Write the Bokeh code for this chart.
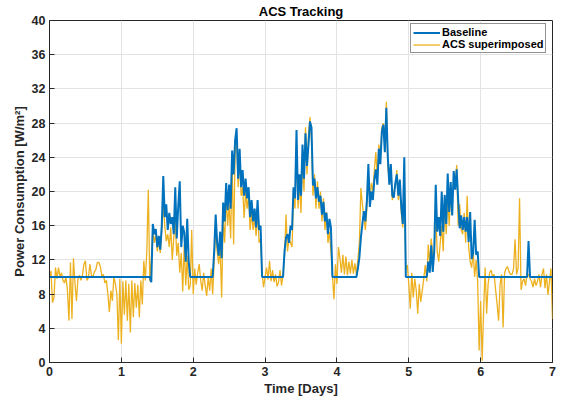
import numpy as np
from bokeh.plotting import figure
from bokeh.models import Legend, LegendItem, ColumnDataSource, FixedTicker
from bokeh.embed import file_html
from bokeh.resources import INLINE

# Sampling: one value every 30 minutes over 7 days (48 samples per day)
samples_per_day = 48

# Baseline power consumption [W/m^2]
baseline = [
    10.0, 10.0, 10.0, 10.0, 10.0, 10.0, 10.0, 10.0, 10.0, 10.0,
    10.0, 10.0, 10.0, 10.0, 10.0, 10.0, 10.0, 10.0, 10.0, 10.0,
    10.0, 10.0, 10.0, 10.0, 10.0, 10.0, 10.0, 10.0, 10.0, 10.0,
    10.0, 10.0, 10.0, 10.0, 10.0, 10.0, 10.0, 10.0, 10.0, 10.0,
    10.0, 10.0, 10.0, 10.0, 10.0, 10.0, 10.0, 10.0, 10.0, 10.0,
    10.0, 10.0, 10.0, 10.0, 10.0, 10.0, 10.0, 10.0, 10.0, 10.0,
    10.0, 10.0, 10.0, 10.0, 10.0, 10.0, 10.0, 10.0, 9.4,
    16.2, 15.0, 15.6, 13.5, 14.8, 13.2, 16.0, 21.8, 17.0, 18.5,
    15.5, 17.5, 16.2, 17.0, 15.0, 20.5, 14.5, 18.3, 21.2, 13.5,
    16.0, 15.2, 11.8, 16.8, 11.8,
    10.0, 10.0, 10.0, 10.0, 10.0, 10.0, 10.0, 10.0, 10.0, 10.0,
    10.0, 10.0, 10.0, 10.0, 10.0, 10.0,
    13.0, 17.3, 14.0, 12.5, 15.3, 12.2, 18.7, 16.5, 21.0, 17.8,
    20.8, 18.0, 24.8, 22.0, 26.0, 27.4, 21.5, 25.0, 20.5, 22.5,
    19.5, 21.5, 19.2, 20.5, 17.0, 19.0, 16.5, 18.0, 15.8, 19.0,
    15.5, 16.0,
    10.0, 10.0, 10.0, 10.0, 10.0, 10.0, 10.0, 10.0, 10.0, 10.0,
    10.0, 10.0, 10.0, 10.0, 10.0,
    13.0, 14.6, 15.0, 14.0, 16.0, 15.5, 20.5, 19.2, 27.2, 19.0,
    22.0, 19.5, 25.5, 21.5, 26.8, 23.0, 25.5, 28.2, 27.5, 20.7,
    21.5, 19.2, 20.5, 18.8, 19.5, 17.3, 18.8, 16.5, 17.5, 15.0,
    16.8, 15.8,
    10.0, 10.0, 10.0, 10.0, 10.0, 10.0, 10.0, 10.0, 10.0, 10.0,
    10.0, 10.0, 10.0, 10.0, 10.0, 10.0, 10.0,
    11.0, 12.3, 14.6, 16.2, 17.7, 16.5, 18.9, 23.2, 18.2, 20.0,
    19.0, 21.4, 22.6, 20.8, 25.0, 23.2, 27.0, 27.8, 24.6, 29.8,
    24.0, 20.8, 23.2, 19.5, 19.3, 21.0, 22.0, 19.5, 21.4, 18.2,
    16.2, 24.0,
    10.0, 10.0, 10.0, 10.0, 10.0, 10.0, 10.0, 10.0, 10.0, 10.0,
    10.0, 10.0, 10.0, 10.0, 10.0,
    11.8, 10.5, 13.7, 10.6, 13.0, 20.8, 15.3, 17.0, 14.8, 20.0,
    15.3, 19.6, 16.2, 22.1, 17.6, 21.1, 17.2, 22.4, 20.2, 22.6,
    19.0, 15.7, 17.2, 15.5, 17.0, 15.3, 17.0, 14.1, 17.6, 12.1,
    12.8, 16.7, 12.6, 13.0,
    10.0, 10.0, 10.0, 10.0, 10.0, 10.0, 10.0, 10.0, 10.0, 10.0,
    10.0, 10.0, 10.0, 10.0, 10.0, 10.0, 10.0, 10.0, 10.0, 10.0,
    10.0, 10.0, 10.0, 10.0, 10.0, 10.0, 10.0, 10.0, 10.0, 10.0,
    10.0, 10.0, 10.0,
    14.2,
    10.0, 10.0, 10.0, 10.0, 10.0, 10.0, 10.0, 10.0, 10.0, 10.0,
    10.0, 10.0, 10.0, 10.0, 10.0, 10.0,
]

# ACS superimposed power consumption [W/m^2]
acs = [
    10.0, 10.7, 7.0, 7.6, 11.1, 9.8, 11.1, 10.0, 10.5, 9.6,
    9.3, 10.0, 8.4, 4.9, 11.7, 5.1, 12.2, 9.3, 7.2, 9.8,
    10.2, 9.6, 10.2, 11.5, 11.9, 9.6, 9.9, 11.5, 10.2, 10.0,
    10.6, 10.9, 11.7, 11.7, 11.2, 10.1, 10.3, 9.3, 9.6, 8.0,
    5.9, 8.4, 7.2, 10.0, 9.2, 8.0, 2.6, 9.8, 2.2, 9.5,
    5.6, 9.6, 4.9, 9.2, 3.5, 9.6, 5.3, 9.3, 6.4, 9.1,
    5.3, 9.6, 6.8, 11.9, 9.6, 13.0, 20.2, 9.5,
    12.0, 15.5, 14.0, 15.0, 13.0, 14.3, 12.8, 15.5, 18.5, 16.0,
    14.2, 15.0, 13.5, 15.8, 12.0, 14.5, 17.0, 12.5, 14.0, 10.5,
    12.8, 8.3, 13.8, 9.0, 12.5, 8.5,
    9.0, 15.5, 8.0, 11.0, 9.1, 10.5, 11.5, 9.6, 8.4, 10.5,
    9.0, 7.8, 10.0, 8.4, 11.0, 8.0,
    12.0, 15.5, 13.0, 11.5, 13.5, 7.6, 17.0, 14.0, 19.5, 16.0,
    18.5, 14.5, 23.5, 13.8, 24.5, 26.5, 20.5, 24.0, 19.5, 20.5,
    16.9, 20.0, 18.0, 19.5, 15.5, 17.5, 15.5, 17.0, 14.8, 17.5,
    14.0, 14.5, 10.5,
    8.8, 10.0, 11.1, 9.7, 11.9, 9.5, 10.8, 9.4, 10.3, 8.9,
    9.4, 10.8, 9.0, 10.3,
    12.5, 17.3, 13.0, 14.5, 14.0, 13.5, 19.3, 18.0, 25.5, 18.0,
    21.0, 17.5, 24.0, 20.0, 27.5, 22.0, 26.5, 28.7, 26.0, 19.5,
    22.0, 18.0, 21.2, 18.0, 20.0, 16.5, 19.2, 15.5, 17.6, 14.0,
    15.3, 13.0, 10.2,
    7.4, 11.5, 9.2, 13.5, 12.2, 10.5, 12.6, 10.3, 12.4, 10.2,
    11.8, 10.4, 12.0, 10.4, 11.6, 10.3,
    12.0, 14.0, 20.4, 18.5, 17.0, 15.5, 18.0, 22.0, 19.0, 21.0,
    20.0, 22.5, 24.6, 21.5, 25.5, 24.0, 27.5, 28.0, 25.5, 30.5,
    23.0, 21.0, 22.5, 19.0, 20.0, 20.5, 22.5, 19.0, 20.5, 17.5,
    15.8, 22.0, 10.8,
    11.4, 9.2, 6.3, 10.5, 7.6, 9.8, 8.4, 5.7, 9.2, 7.1,
    8.4, 9.8, 11.4, 9.5,
    13.8, 11.5, 14.5, 12.5, 13.0, 17.5, 13.0, 11.8, 14.0, 16.0,
    13.0, 18.4, 15.0, 19.5, 16.0, 20.5, 19.5, 21.0, 20.5, 23.1,
    16.0, 18.5, 15.5, 15.0, 17.5, 14.0, 19.5, 13.5, 11.8, 11.1,
    13.0, 10.0, 12.0, 9.5,
    1.4, 7.2, 0.2, 6.1, 11.1, 5.7, 9.2, 10.5, 10.8, 10.0,
    10.3, 8.5, 6.8, 4.9, 9.2, 10.3, 4.1, 10.5, 11.0, 11.2,
    10.6, 10.3, 10.3, 11.0, 14.4, 10.3, 11.0, 19.2, 8.5, 9.5,
    9.8, 9.0, 10.3, 10.3, 9.8, 9.5, 8.8, 9.8, 9.0, 9.5,
    10.3, 8.8, 10.3, 11.0, 8.7, 10.3, 7.9, 9.5, 11.0, 5.1,
]

x_ticks = [0, 1, 2, 3, 4, 5, 6, 7]
y_ticks = [0, 4, 8, 12, 16, 20, 24, 28, 32, 36, 40]
series_labels = ["Baseline", "ACS superimposed"]

time_days = np.arange(len(baseline)) / samples_per_day
src = ColumnDataSource(data=dict(t=time_days, base=baseline, acs=acs))

FONT = "Liberation Sans"
DARK = "#262626"

p = figure(width=561, height=398, x_range=(0, 7), y_range=(0, 40),
           output_backend="svg", toolbar_location=None,
           min_border_left=49, min_border_right=9,
           min_border_top=18, min_border_bottom=36)

p.title.text = "ACS Tracking"
p.title.align = "center"
p.title.text_font = FONT
p.title.text_font_size = "13px"
p.title.text_font_style = "bold"
p.title.text_color = "#000000"
p.title.standoff = 3

r_acs = p.line("t", "acs", source=src, line_color="#EDB120", line_width=1.3)
r_base = p.line("t", "base", source=src, line_color="#0072BD", line_width=2.0)

p.xaxis.ticker = FixedTicker(ticks=x_ticks)
p.yaxis.ticker = FixedTicker(ticks=y_ticks)
p.xaxis.axis_label = "Time [Days]"
p.yaxis.axis_label = "Power Consumption [W/m²]"

for ax in (p.xaxis[0], p.yaxis[0]):
    ax.axis_label_text_font = FONT
    ax.axis_label_text_font_size = "13px"
    ax.axis_label_text_font_style = "bold"
    ax.axis_label_text_color = DARK
    ax.major_label_text_font = FONT
    ax.major_label_text_font_size = "12.5px"
    ax.major_label_text_font_style = "bold"
    ax.major_label_text_color = DARK
    ax.axis_line_color = DARK
    ax.major_tick_line_color = DARK
    ax.major_tick_in = 5
    ax.major_tick_out = 0
    ax.minor_tick_line_color = None
    ax.major_label_standoff = 4
    ax.axis_label_standoff = 2

p.xgrid.grid_line_color = "#e3e3e3"
p.ygrid.grid_line_color = "#e3e3e3"
p.outline_line_color = DARK
p.outline_line_width = 1
p.background_fill_color = "white"
p.border_fill_color = "white"

legend = Legend(items=[LegendItem(label=series_labels[0], renderers=[r_base]),
                       LegendItem(label=series_labels[1], renderers=[r_acs])],
                location=(361, 309))
legend.label_text_font = FONT
legend.label_text_font_size = "11px"
legend.label_text_font_style = "bold"
legend.label_text_color = "#000000"
legend.label_height = 9
legend.glyph_height = 9
legend.glyph_width = 27
legend.label_standoff = 2
legend.spacing = 0
legend.padding = 2
legend.margin = 0
legend.border_line_color = DARK
legend.border_line_width = 1
legend.background_fill_color = "white"
legend.background_fill_alpha = 1.0
p.add_layout(legend, "center")

open("out.html", "w").write(file_html(p, INLINE))
